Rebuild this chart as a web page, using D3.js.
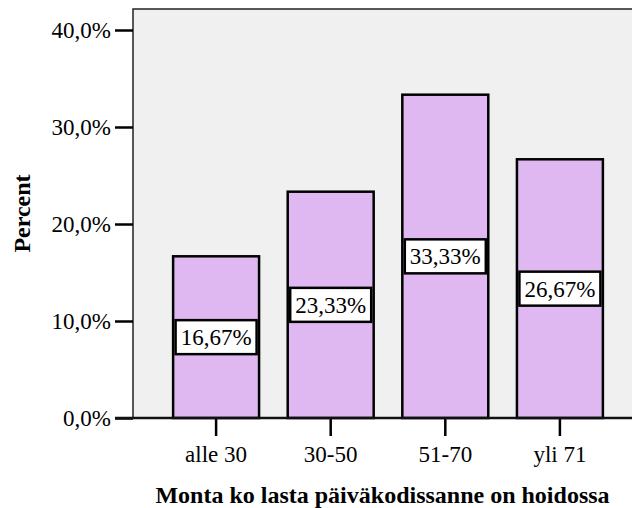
<!DOCTYPE html>
<html>
<head>
<meta charset="utf-8">
<script src="https://cdn.jsdelivr.net/npm/d3@7"></script>
<style>
  body { margin: 0; background: #fff; }
</style>
</head>
<body>
<div id="chart"></div>
<script>
// data
var categories = ["alle 30", "30-50", "51-70", "yli 71"];
var percents = [16.67, 23.33, 33.33, 26.67];
var valueLabels = ["16,67%", "23,33%", "33,33%", "26,67%"];
var yTicks = [0, 10, 20, 30, 40];
var yTickLabels = ["0,0%", "10,0%", "20,0%", "30,0%", "40,0%"];
var xTitle = "Monta ko lasta päiväkodissanne on hoidossa";
var yTitle = "Percent";

var width = 632, height = 508;
var plot = {left: 133, top: 9, right: 632, bottom: 418};
var serif = "'Liberation Serif', 'Times New Roman', serif";

var svg = d3.select("#chart").append("svg")
    .attr("width", width)
    .attr("height", height);

var x = d3.scaleBand()
    .domain(categories)
    .range([plot.left, 643])
    .paddingInner(0.25)
    .paddingOuter(0.35);

var y = d3.scaleLinear()
    .domain([0, 40])
    .range([plot.bottom, 30]);

// grey plot background
svg.append("rect")
    .attr("x", plot.left)
    .attr("y", plot.top)
    .attr("width", plot.right - plot.left + 2)
    .attr("height", plot.bottom - plot.top)
    .attr("fill", "#f0f0f0")
    .attr("stroke", "#222")
    .attr("stroke-width", 1.5);

// bars
svg.selectAll("rect.bar")
    .data(percents)
    .enter()
    .append("rect")
    .attr("class", "bar")
    .attr("x", (d, i) => x(categories[i]))
    .attr("y", d => y(d))
    .attr("width", x.bandwidth())
    .attr("height", d => y(0) - y(d))
    .attr("fill", "#dfb8f2")
    .attr("stroke", "#000")
    .attr("stroke-width", 2.5);

// y axis
var yAxis = d3.axisLeft(y)
    .tickValues(yTicks)
    .tickSize(18)
    .tickPadding(4)
    .tickFormat((d, i) => yTickLabels[i]);

var gy = svg.append("g")
    .attr("transform", "translate(" + plot.left + ",0)")
    .call(yAxis);
gy.select(".domain").remove();
gy.selectAll(".tick line").attr("stroke", "#000").attr("stroke-width", 2.5);
gy.selectAll(".tick text")
    .style("font-family", serif)
    .style("font-size", "23px")
    .attr("fill", "#000");

// x axis
var xAxis = d3.axisBottom(x)
    .tickSize(18)
    .tickPadding(10);

var gx = svg.append("g")
    .attr("transform", "translate(0," + plot.bottom + ")")
    .call(xAxis);
gx.select(".domain").remove();
gx.selectAll(".tick line").attr("stroke", "#000").attr("stroke-width", 2.5);
gx.selectAll(".tick text")
    .style("font-family", serif)
    .style("font-size", "23px")
    .attr("fill", "#000");

// baseline from the 0% tick to the right edge
svg.append("line")
    .attr("x1", 115)
    .attr("x2", width)
    .attr("y1", y(0))
    .attr("y2", y(0))
    .attr("stroke", "#111")
    .attr("stroke-width", 2.5);

// value labels in white boxes at bar middle
var labels = svg.selectAll("g.vlabel")
    .data(percents)
    .enter()
    .append("g")
    .attr("class", "vlabel")
    .attr("transform", (d, i) => "translate(" + (x(categories[i]) + x.bandwidth() / 2) + "," + (y(d / 2)) + ")");

labels.append("rect")
    .attr("x", -40.5)
    .attr("y", -17)
    .attr("width", 81)
    .attr("height", 34)
    .attr("fill", "#fff")
    .attr("stroke", "#000")
    .attr("stroke-width", 2.5);

labels.append("text")
    .attr("text-anchor", "middle")
    .attr("y", 8)
    .style("font-family", serif)
    .style("font-size", "23px")
    .text((d, i) => valueLabels[i]);

// axis titles
svg.append("text")
    .attr("x", (plot.left + plot.right) / 2)
    .attr("y", 503)
    .attr("text-anchor", "middle")
    .style("font-family", serif)
    .style("font-size", "24px")
    .style("font-weight", "bold")
    .text(xTitle);

svg.append("text")
    .attr("transform", "translate(30," + ((plot.top + plot.bottom) / 2) + ") rotate(-90)")
    .attr("text-anchor", "middle")
    .style("font-family", serif)
    .style("font-size", "24px")
    .style("font-weight", "bold")
    .text(yTitle);
</script>
</body>
</html>
